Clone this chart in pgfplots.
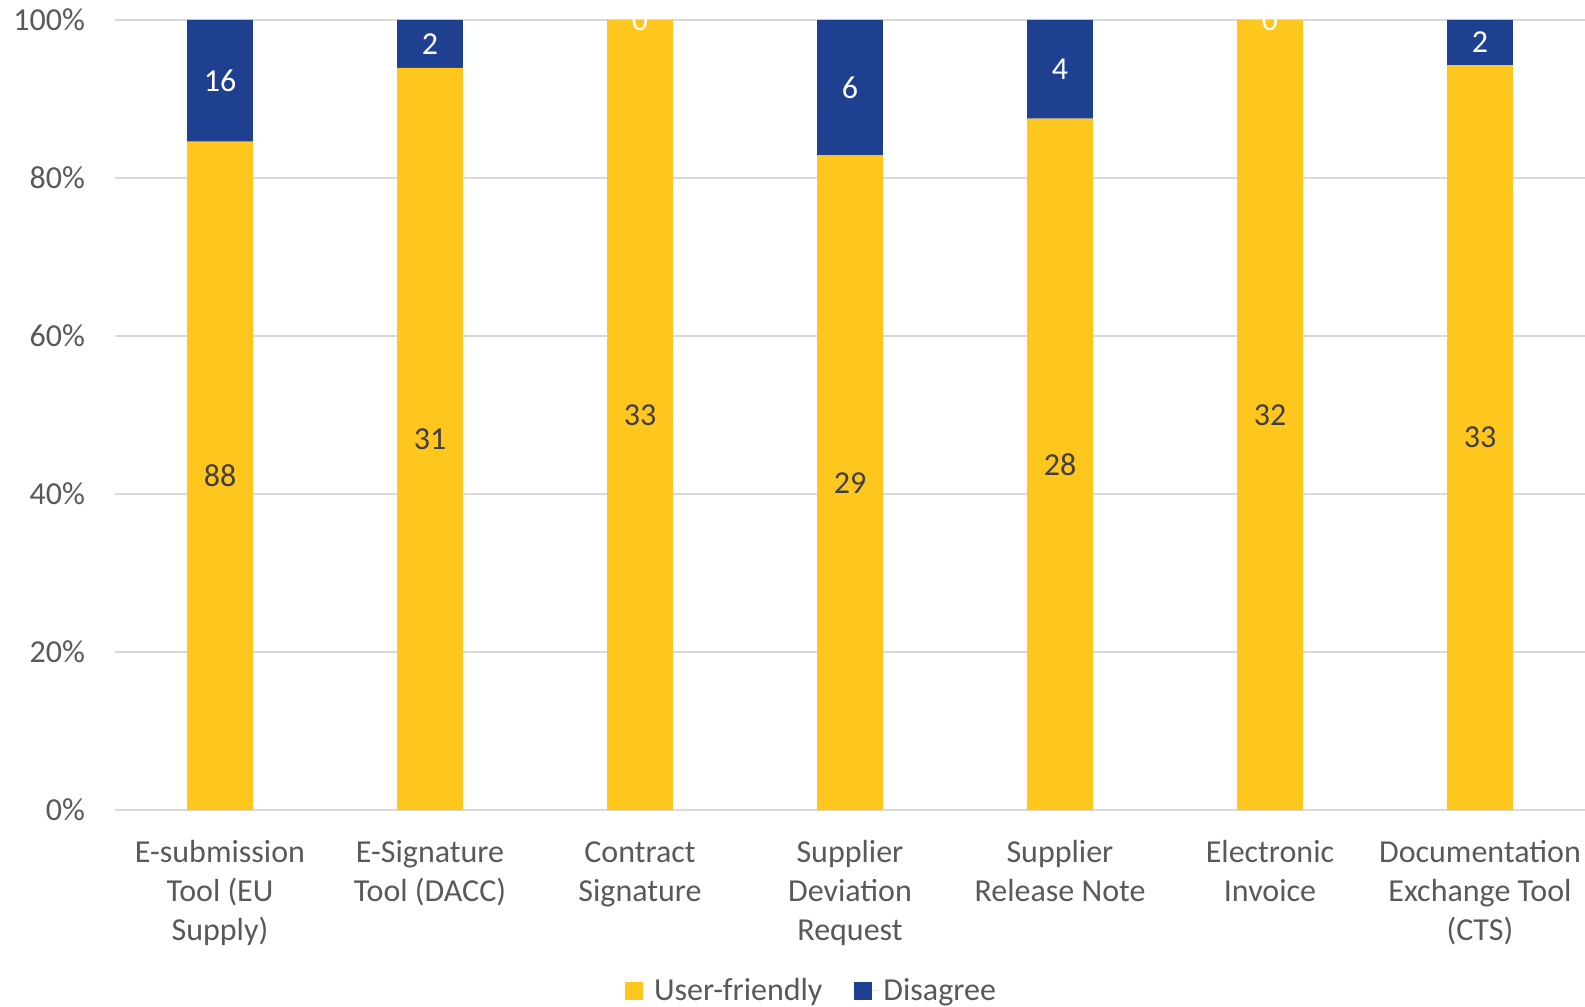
\documentclass[border=0pt]{standalone}
\usepackage{pgfplots}
\pgfplotsset{compat=1.18}
\usepackage{pgfplotstable}
\usepackage{fontspec}
\setmainfont{Carlito}
\definecolor{cyellow}{HTML}{FFC61E}
\definecolor{cblue}{HTML}{1F3F91}
\definecolor{ctext}{HTML}{595959}
\definecolor{cdark}{HTML}{404040}
\definecolor{cgrid}{HTML}{D9D9D9}

\pgfplotstableread{
x uf dis
0 88 16
1 31 2
2 33 0
3 29 6
4 28 4
5 32 0
6 33 2
}\datatable

\newcommand{\lblfont}{\fontsize{16bp}{19.5bp}\selectfont}

\begin{document}
\begin{tikzpicture}
\path[use as bounding box] (-57.5bp,-98.5bp) rectangle (735bp,405bp);
\begin{axis}[
  at={(0,0)}, anchor=south west,
  width=735bp, height=395bp, scale only axis,
  xmin=-0.5, xmax=6.5, ymin=0, ymax=100,
  axis line style={draw=none},
  ymajorgrids, major grid style={cgrid, line width=0.9bp},
  ytick={0,20,40,60,80,100},
  yticklabels={0\%,20\%,40\%,60\%,80\%,100\%},
  xtick={0,1,2,3,4,5,6},
  xticklabels={{\strut E-submission\\Tool (EU\\Supply)},{\strut E-Signature\\Tool (DACC)},{\strut Contract\\Signature},{\strut Supplier\\Deviation\\Request},{\strut Supplier\\Release Note},{\strut Electronic\\Invoice},{\strut Documentation\\Exchange Tool\\(CTS)}},
  major tick length=0pt,
  tick label style={font=\lblfont, text=ctext},
  xticklabel style={align=center, anchor=north, yshift=-9bp},
  yticklabel style={anchor=east, xshift=-11.5bp},
  ybar stacked, bar width=0.3125,
  legend style={at={(0.4745,-0.2285)}, anchor=center, draw=none, legend columns=2,
    font=\lblfont, text=ctext, /tikz/every even column/.append style={column sep=14bp}},
]
\addplot[fill=cyellow, draw=none, legend image code/.code={\fill[cyellow] (0bp,-4.5bp) rectangle (9bp,4.5bp); \path (0bp,0bp) -- (12.5bp,0bp);}]
  table[x=x, y expr={\thisrow{uf}/(\thisrow{uf}+\thisrow{dis})*100}] \datatable;
\addlegendentry{User-friendly}
\addplot[fill=cblue, draw=none, legend image code/.code={\fill[cblue] (0bp,-4.5bp) rectangle (9bp,4.5bp); \path (0bp,0bp) -- (12.5bp,0bp);}]
  table[x=x, y expr={\thisrow{dis}/(\thisrow{uf}+\thisrow{dis})*100}] \datatable;
\addlegendentry{Disagree}
\end{axis}
\begin{axis}[
  at={(0,0)}, anchor=south west,
  width=735bp, height=395bp, scale only axis,
  xmin=-0.5, xmax=6.5, ymin=0, ymax=100,
  hide axis,
]
\addplot[draw=none, mark=none, nodes near coords, point meta=explicit symbolic,
  every node near coord/.style={font=\lblfont, text=cdark, anchor=center}]
  table[x=x, y expr={\thisrow{uf}/(\thisrow{uf}+\thisrow{dis})*50}, meta=uf] \datatable;
\addplot[draw=none, mark=none, nodes near coords, point meta=explicit symbolic,
  every node near coord/.style={font=\lblfont, text=white, anchor=center}]
  table[x=x, y expr={(\thisrow{uf}+\thisrow{dis}/2)/(\thisrow{uf}+\thisrow{dis})*100}, meta=dis] \datatable;
\end{axis}
\end{tikzpicture}
\end{document}
